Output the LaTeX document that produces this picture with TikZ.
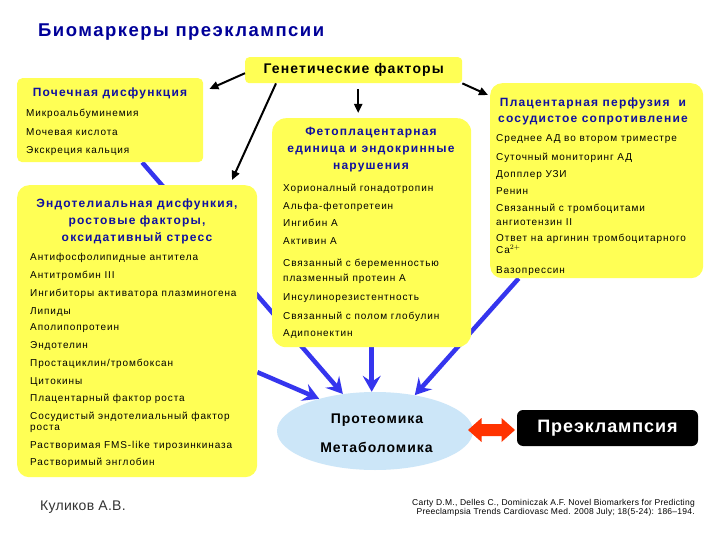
\documentclass[tikz,border=0pt]{standalone}
\usepackage{fontspec}
\setmainfont{Liberation Sans}
\usetikzlibrary{arrows.meta,shapes.geometric,backgrounds}
\pgfdeclarelayer{bottom}
\pgfsetlayers{bottom,background,main}
\definecolor{boxy}{HTML}{FFFF55}
\definecolor{titleblue}{HTML}{000099}
\definecolor{boxtitle}{HTML}{1010A0}
\definecolor{arrowblue}{HTML}{3535EE}
\definecolor{ellblue}{HTML}{CCE6F8}
\definecolor{redarrow}{HTML}{FF3300}
\newcommand{\itemf}{\fontsize{10}{11}\selectfont\addfontfeature{LetterSpace=9}}
\newcommand{\btitlef}{\bfseries\fontsize{12}{17}\selectfont\addfontfeature{LetterSpace=10}}
\begin{document}
\begin{tikzpicture}[x=1pt,y=-1pt,
  ybox/.style={fill=boxy, draw=none, inner sep=0, anchor=north west},
  itm/.style={anchor=base west, inner sep=0, font=\itemf},
  btitle/.style={font=\btitlef, text=boxtitle, align=center, inner sep=0},
  bkarrow/.style={draw=black, line width=2pt, -{Triangle[length=9pt,width=8pt]}},
  blarrow/.style={draw=arrowblue, line width=4.5pt, -{Stealth[length=16pt,width=18pt,inset=6pt]}}]
\useasboundingbox (0,0) rectangle (720,540);
\begin{pgfonlayer}{bottom}
\fill[white] (0,0) rectangle (720,540);
\end{pgfonlayer}
% title
\node[anchor=base west, inner sep=0, font=\bfseries\fontsize{18.5}{20}\selectfont\addfontfeature{LetterSpace=8}, text=titleblue] (title) at (38,37) {Биомаркеры преэклампсии};
% boxes
\node[ybox, rounded corners=4pt, minimum width=217pt, minimum height=26pt, font=\bfseries\fontsize{14}{16}\selectfont\addfontfeature{LetterSpace=8}] (gen) at (245,57) {Генетические факторы};
\node[ybox, rounded corners=5pt, minimum width=186pt, minimum height=84pt] (kid) at (17,78) {};
\node[ybox, rounded corners=12pt, minimum width=240pt, minimum height=292pt] (endo) at (17,185) {};
\node[ybox, rounded corners=14pt, minimum width=199pt, minimum height=229pt] (fet) at (272,118) {};
\node[ybox, rounded corners=12pt, minimum width=213pt, minimum height=195pt] (plac) at (490,83) {};
\node[ellipse, fill=ellblue, minimum width=196pt, minimum height=78pt, inner sep=0] (ell) at (375,431) {};
\node[fill=black, rounded corners=6pt, minimum width=181pt, minimum height=36pt, inner sep=0, text=white, font=\bfseries\fontsize{18}{20}\selectfont\addfontfeature{LetterSpace=5}] (pre) at (607.5,428) {Преэклампсия};
% kidney
\node[btitle, anchor=base] (kidt) at (110,97) {Почечная дисфункция};
\foreach [count=\i] \yy/\tt in {116.5/Микроальбуминемия, 135.5/Мочевая кислота, 153.5/Экскреция кальция}
  \node[itm] (k\i) at (26,\yy) {\tt};
% endothelial
\node[btitle] (endot) at (137,221) {Эндотелиальная дисфункия,\\ростовые факторы,\\оксидативный стресс};
\foreach [count=\i] \yy/\tt in {260.5/Антифосфолипидные антитела, 278.5/Антитромбин III, 296.5/Ингибиторы активатора плазминогена, 314.5/Липиды, 330.5/Аполипопротеин, 348.5/Эндотелин, 366.5/{Простациклин/тромбоксан}, 384.5/Цитокины, 401.5/Плацентарный фактор роста, 419.5/Сосудистый эндотелиальный фактор, 430.5/роста, 448.5/Растворимая FMS-like тирозинкиназа, 465.5/Растворимый энглобин}
  \node[itm] (e\i) at (30,\yy) {\tt};
% fetoplacental
\node[btitle] (fett) at (371,150) {Фетоплацентарная\\единица и эндокринные\\нарушения};
\foreach [count=\i] \yy/\tt in {191.5/Хорионалный гонадотропин, 209.5/Альфа-фетопретеин, 226.5/Ингибин А, 244.5/Активин А, 266.5/Связанный с беременностью, 281.5/плазменный протеин А, 300.5/Инсулинорезистентность, 319.5/Связанный с полом глобулин, 336.5/Адипонектин}
  \node[itm] (f\i) at (283,\yy) {\tt};
% placental
\node[btitle, font=\bfseries\fontsize{12}{16}\selectfont\addfontfeature{LetterSpace=10}] (plact) at (593,111) {Плацентарная перфузия \ и\\сосудистое сопротивление};
\foreach [count=\i] \yy/\tt in {141.5/Среднее АД во втором триместре, 160.5/Суточный мониторинг АД, 177.5/Допплер УЗИ, 194.5/Ренин, 211.5/Связанный с тромбоцитами, 225.5/ангиотензин II, 241.5/Ответ на аргинин тромбоцитарного, 253.5/{Ca$^{2+}$}, 273.5/Вазопрессин}
  \node[itm] (p\i) at (496,\yy) {\tt};
% ellipse texts
\node[anchor=base, inner sep=0, font=\bfseries\fontsize{14}{16}\selectfont\addfontfeature{LetterSpace=7}] (prot) at (377,423) {Протеомика};
\node[anchor=base, inner sep=0, font=\bfseries\fontsize{14}{16}\selectfont\addfontfeature{LetterSpace=7}] (meta) at (376.5,452) {Метаболомика};
% red double arrow
\coordinate (dbl) at (491.5,430);
\fill[redarrow, shift={(dbl)}] (-23.5,0) -- (-10,-12) -- (-10,-6) -- (10,-6) -- (10,-12) -- (23.5,0) -- (10,12) -- (10,6) -- (-10,6) -- (-10,12) -- cycle;
% black arrows
\draw[bkarrow] ([yshift=-3pt]gen.west) -- ([xshift=6pt,yshift=-11pt]kid.north east);
\draw[bkarrow] ([xshift=31pt]gen.south west) -- ([xshift=215pt,yshift=5pt]endo.north west);
\draw[bkarrow] ([xshift=4.5pt,yshift=-6pt]gen.south) -- ([xshift=-13.5pt,yshift=5pt]fet.north);
\draw[bkarrow] (gen.south east) -- ([xshift=-2pt,yshift=-12pt]plac.north west);
% blue arrows behind boxes
\begin{pgfonlayer}{background}
\draw[blarrow] ([xshift=32pt]kid.south) -- (ell.131);
\draw[blarrow] ([yshift=-41pt]endo.east) -- (ell.150);
\draw[blarrow] (fet.south) -- (fet.south |- ell.north);
\draw[blarrow] ([xshift=-78pt]plac.south) -- (ell.42);
\end{pgfonlayer}
% footer
\node[anchor=base west, inner sep=0, font=\fontsize{14}{16}\selectfont\addfontfeature{LetterSpace=2}, text=black!80] (auth) at (40,510) {Куликов А.В.};
\node[anchor=north east, align=right, inner sep=0, font=\fontsize{8.5}{9}\selectfont\addfontfeature{LetterSpace=3}] (cit) at (695,499) {Carty D.M., Delles C., Dominiczak A.F. Novel Biomarkers for Predicting\\Preeclampsia Trends Cardiovasc Med. 2008 July; 18(5-24): 186--194.};
\end{tikzpicture}
\end{document}
